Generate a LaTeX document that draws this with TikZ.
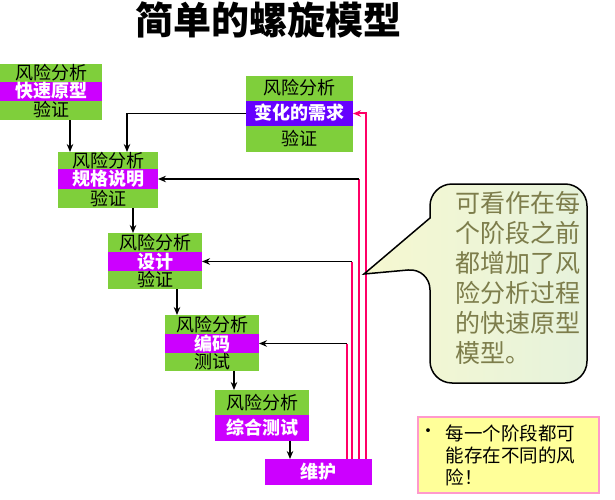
\documentclass[tikz,border=0pt]{standalone}
\usepackage{fontspec}
\setmainfont{Noto Sans CJK SC}
\usetikzlibrary{arrows.meta,positioning}
\definecolor{cgreen}{HTML}{7FCF3B}
\definecolor{cmag}{HTML}{CC00FF}
\definecolor{cpurple}{HTML}{6600FF}
\definecolor{cpink}{HTML}{FF0066}
\definecolor{colive}{HTML}{7D7D4B}
\definecolor{cleft}{HTML}{F6F8D0}
\definecolor{cright}{HTML}{E6F2DC}
\definecolor{cyel}{HTML}{FFFF99}
\definecolor{crose}{HTML}{FF99CC}

\begin{document}
\begin{tikzpicture}[
    x=1pt, y=-1pt,
    rowbox/.style={anchor=north west, inner sep=0pt, outer sep=0pt, text height=13pt, text depth=0pt, font=\fontsize{18}{18}\selectfont},
    rsk/.style={rowbox, fill=cgreen, text=black},
    act/.style={rowbox, fill=cmag, text=white, font=\fontsize{18}{18}\selectfont\bfseries},
    arr/.style={-{Stealth[length=8pt, width=6.5pt]}, line width=1.8pt},
    pk/.style={cpink, line width=2pt},
]
\useasboundingbox (0,0) rectangle (615,500);

% --- Title ---
\node[font=\fontsize{38}{38}\selectfont\bfseries] (title) at (268,20) {简单的螺旋模型};

% --- Prototype ---
\node[rsk, minimum width=102pt, minimum height=18pt] (proto-r) at (0,64) {风险分析};
\node[act, minimum width=102pt, minimum height=19pt] (proto) at (0,82) {快速原型};
\node[rsk, minimum width=102pt, minimum height=19pt] (proto-v) at (0,101) {验证};

% --- Changed requirements ---
\node[rsk, minimum width=107pt, minimum height=25pt] (chg-r) at (246,76) {风险分析};
\node[act, fill=cpurple, minimum width=107pt, minimum height=25pt] (chg) at (246,101) {变化的需求};
\node[rsk, minimum width=107pt, minimum height=26pt] (chg-v) at (246,126) {验证};

% --- Specification ---
\node[rsk, minimum width=100pt, minimum height=17pt] (spec-r) at (58,152) {风险分析};
\node[act, minimum width=100pt, minimum height=20pt] (spec) at (58,169) {规格说明};
\node[rsk, minimum width=100pt, minimum height=19pt] (spec-v) at (58,189) {验证};

% --- Design ---
\node[rsk, minimum width=94pt, minimum height=19pt] (dsgn-r) at (108,233) {风险分析};
\node[act, minimum width=94pt, minimum height=19pt] (dsgn) at (108,252) {设计};
\node[rsk, minimum width=94pt, minimum height=18pt] (dsgn-v) at (108,271) {验证};

% --- Coding ---
\node[rsk, minimum width=94pt, minimum height=19pt] (code-r) at (165,315) {风险分析};
\node[act, minimum width=94pt, minimum height=19pt] (code) at (165,334) {编码};
\node[rsk, minimum width=94pt, minimum height=18pt] (code-t) at (165,353) {测试};

% --- Integration test ---
\node[rsk, minimum width=94pt, minimum height=25pt] (test-r) at (215,390) {风险分析};
\node[act, minimum width=94pt, minimum height=26pt] (test) at (215,415) {综合测试};

% --- Maintenance ---
\node[act, minimum width=107pt, minimum height=26pt] (mnt) at (265,459) {维护};

% columns of the connectors
\coordinate (x1) at (70,0);
\coordinate (x2) at (133,0);
\coordinate (x3) at (177,0);
\coordinate (x4) at (234,0);
\coordinate (x5) at (290,0);
\coordinate (xs) at (127,0);
\coordinate (p1) at (347,0);
\coordinate (p2) at (352,0);
\coordinate (p3) at (359,0);
\coordinate (p4) at (366,0);

% downward flow
\draw[arr] (proto-v.south -| x1) -- (spec-r.north -| x1);
\draw[arr] (chg.west) -| (spec-r.north -| xs);
\draw[arr] (spec-v.south -| x2) -- (dsgn-r.north -| x2);
\draw[arr] (dsgn-v.south -| x3) -- (code-r.north -| x3);
\draw[arr] (code-t.south -| x4) -- (test-r.north -| x4);
\draw[arr] (test.south -| x5) -- (mnt.north -| x5);

% feedback from maintenance
\draw[pk] (mnt.north -| p1) -- (code.east -| p1);
\draw[arr] (code.east -| p1) -- (code.east);
\draw[pk] (mnt.north -| p2) -- (dsgn.east -| p2);
\draw[arr] (dsgn.east -| p2) -- (dsgn.east);
\draw[pk] (mnt.north -| p3) -- (spec.east -| p3);
\draw[arr] (spec.east -| p3) -- (spec.east);
\draw[pk, -{Stealth[length=8pt, width=6.5pt]}] (mnt.north -| p4) |- (chg.east);

% --- Callout ---
\draw[line width=1.5pt, left color=cleft, right color=cright, rounded corners=22pt]
    (500,184) -- (587,184) -- (587,383) -- (430,383) -- (430,268) [sharp corners]
    -- (364,274) -- (430,218) [rounded corners=22pt] -- (430,184) -- cycle;
\node[anchor=west, align=left, text=colive, font=\fontsize{25}{30}\selectfont] (tiptxt) at (452,278)
    {可看作在每\\个阶段之前\\都增加了风\\险分析过程\\的快速原型\\模型。};

% --- Note ---
\node[draw=crose, fill=cyel, line width=2pt, anchor=north west, minimum width=181pt, minimum height=76pt] (note) at (417,416) {};
\node[font=\fontsize{18}{18}\selectfont] (bul) at (428,433) {\textbullet};
\node[anchor=west, align=left, font=\fontsize{18.5}{22}\selectfont] (notetxt) at (442,455)
    {每一个阶段都可\\能存在不同的风\\险！};

\end{tikzpicture}
\end{document}
